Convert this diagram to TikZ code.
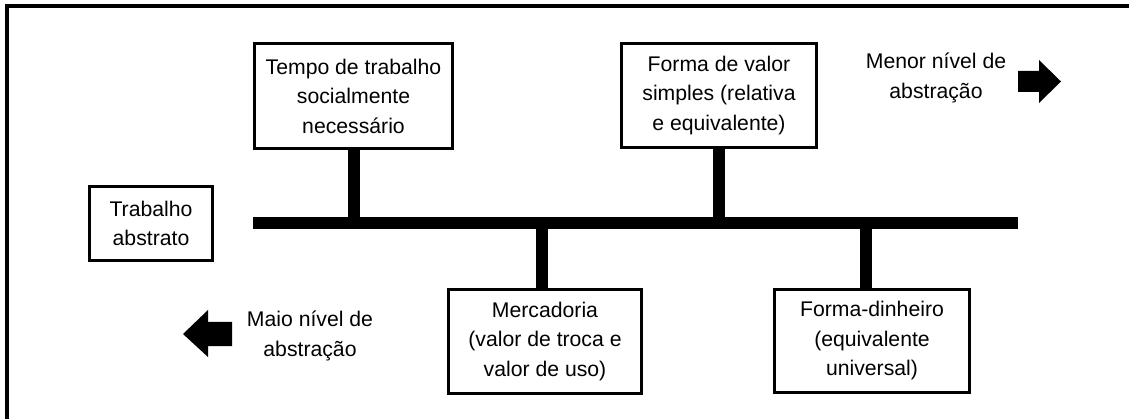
\documentclass[tikz,border=0pt]{standalone}
\usepackage{fontspec}
\setmainfont{Liberation Sans}
\begin{document}
\begin{tikzpicture}[x=1pt,y=-1pt,
  txt/.style={align=center,font=\fontsize{21.2}{29.5}\selectfont,inner sep=0pt},
  box/.style={txt,draw,line width=3pt,fill=white},
  bar/.style={line width=12pt,line cap=butt},
  blockarrow/.style={fill=black,draw=none}]
\useasboundingbox (0,0) rectangle (1129,419);
\fill[white] (0,0) rectangle (1129,419);
% frame
\draw[line width=4pt] (7,419) -- (7,6) -- (1129,6);
% spine
\coordinate (barL) at (253,223);
\coordinate (barR) at (1018,223);
\draw[bar] (barL) -- (barR);
% boxes
\node[box,minimum width=198pt,minimum height=105pt] (tempo) at (353.5,96) {Tempo de trabalho\\socialmente\\necessário};
\node[box,minimum width=195pt,minimum height=104pt] (valor) at (719,95.5) {Forma de valor\\simples (relativa\\e equivalente)};
\node[box,minimum width=193pt,minimum height=104pt] (merc) at (545,341.5) {Mercadoria\\(valor de troca e\\valor de uso)};
\node[box,minimum width=195pt,minimum height=103pt] (dinh) at (872,341) {Forma-dinheiro\\(equivalente\\universal)};
\node[box,minimum width=123pt,minimum height=74pt] (trab) at (151,223.5) {Trabalho\\abstrato};
% stems
\draw[bar] (tempo.south) -- (tempo.south |- barL);
\draw[bar] (valor.south) -- (valor.south |- barL);
\draw[bar] ([xshift=-3pt]merc.north) -- ([xshift=-3pt]merc.north |- barL);
\draw[bar] ([xshift=-6pt]dinh.north) -- ([xshift=-6pt]dinh.north |- barL);
% direction labels
\node[txt] (menor) at (936,78) {Menor nível de\\abstração};
\node[txt] (maior) at (310,336) {Maio nível de\\abstração};
% block arrows
\fill[blockarrow] (1018,71) -- (1039,71) -- (1039,60) -- (1061,81.5) -- (1039,103) -- (1039,92) -- (1018,92) -- cycle;
\fill[blockarrow] (232,322) -- (208,322) -- (208,310) -- (183,334) -- (208,357) -- (208,346) -- (232,346) -- cycle;
\end{tikzpicture}
\end{document}
